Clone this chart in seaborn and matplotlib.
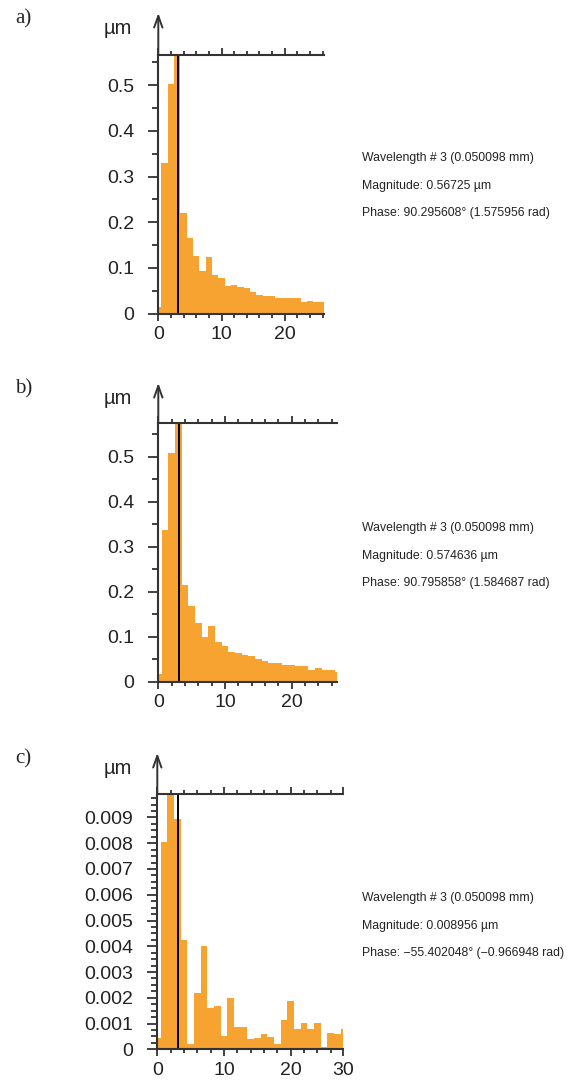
import numpy as np
import pandas as pd
import matplotlib
matplotlib.use("Agg")
import matplotlib.pyplot as plt
import seaborn as sns
from matplotlib.ticker import MultipleLocator, FormatStrFormatter

# amplitude spectra (µm), one bar per harmonic 0, 1, 2, ...
mag_a = [0.015, 0.330, 0.502, 0.56725, 0.221, 0.165, 0.126, 0.093, 0.123, 0.085,
         0.077, 0.060, 0.063, 0.058, 0.056, 0.046, 0.040, 0.038, 0.038, 0.035,
         0.035, 0.033, 0.033, 0.026, 0.028, 0.025, 0.025]
mag_b = [0.017, 0.337, 0.509, 0.574636, 0.216, 0.169, 0.131, 0.099, 0.123, 0.088,
         0.080, 0.067, 0.063, 0.059, 0.057, 0.050, 0.046, 0.041, 0.041, 0.037,
         0.037, 0.034, 0.034, 0.027, 0.031, 0.027, 0.027, 0.022]
mag_c = [0.00043, 0.00806, 0.0100, 0.008956, 0.00424, 0.0002, 0.0022, 0.0040, 0.0016, 0.0017,
         0.00052, 0.0020, 0.00088, 0.00088, 0.00039, 0.00045, 0.00058, 0.00047, 0.0002, 0.00114,
         0.00189, 0.00078, 0.00101, 0.00078, 0.00101, 0.00008, 0.00065, 0.00058, 0.00078]

spectra = [mag_a, mag_b, mag_c]
panel_names = ["a)", "b)", "c)"]
x_max = [26.2, 26.85, 27.8]
y_max = [0.56725, 0.574636, 0.0099]
picked = [3.1, 3.1, 3.15]          # cursor on wavelength #3
y_major = [0.1, 0.1, 0.001]
y_minor = [0.05, 0.05, 0.00025]
info = [
    ["Wavelength # 3 (0.050098 mm)", "Magnitude: 0.56725 µm", "Phase: 90.295608° (1.575956 rad)"],
    ["Wavelength # 3 (0.050098 mm)", "Magnitude: 0.574636 µm", "Phase: 90.795858° (1.584687 rad)"],
    ["Wavelength # 3 (0.050098 mm)", "Magnitude: 0.008956 µm", "Phase: \u221255.402048° (\u22120.966948 rad)"],
]

# layout in pixels (left, top, right, bottom) of each plot box
W, H = 571, 1084
boxes = [(158.3, 54.5, 324, 313.5), (158.3, 423.3, 337.3, 681.7), (157.3, 794.3, 342.7, 1049.3)]
arrow_tip = [13, 383, 753]
info_y = [[158, 186, 213], [528, 556, 583], [898, 926, 953]]

sns.set_theme(style="white")
plt.rcParams["font.family"] = ["Liberation Sans", "DejaVu Sans"]
axis_col = "#333333"
bar_col = "#F6A331"

fig = plt.figure(figsize=(W / 100, H / 100), dpi=100)

for i, mags in enumerate(spectra):
    l, t, r, b = boxes[i]
    ax = fig.add_axes([l / W, 1 - b / H, (r - l) / W, (b - t) / H])
    df = pd.DataFrame({"k": np.arange(len(mags)), "mag": mags})
    sns.barplot(data=df, x="k", y="mag", native_scale=True, width=1.0,
                color=bar_col, saturation=1, linewidth=0, ax=ax)
    ax.axvline(picked[i], color="black", lw=1.4)

    ax.set_xlim(0, x_max[i])
    ax.set_ylim(0, y_max[i])
    ax.set_xlabel("")
    ax.set_ylabel("")

    if i == 2:
        ax.set_xticks([0, 10, 20, x_max[i]])
        ax.set_xticklabels(["0", "10", "20", "30"])
    else:
        ax.set_xticks([0, 10, 20])
        ax.set_xticklabels(["0", "10", "20"])
    ax.xaxis.set_minor_locator(MultipleLocator(2))
    ax.yaxis.set_major_locator(MultipleLocator(y_major[i]))
    ax.yaxis.set_minor_locator(MultipleLocator(y_minor[i]))
    ax.yaxis.set_major_formatter(FormatStrFormatter("%g"))

    for side in ["left", "bottom", "top"]:
        ax.spines[side].set_visible(True)
        ax.spines[side].set_color(axis_col)
        ax.spines[side].set_linewidth(1.5)
    ax.spines["right"].set_visible(False)

    ax.tick_params(which="both", direction="out", color=axis_col, width=1.3,
                   left=True, bottom=True, top=True, right=False,
                   labeltop=False, labelsize=14, labelcolor="#222222")
    ax.tick_params(axis="x", which="major", length=5, pad=4)
    ax.tick_params(axis="x", which="minor", length=3)
    ax.tick_params(axis="y", which="major", length=7.2, pad=10)
    ax.tick_params(axis="y", which="minor", length=4.2)

    # arrow on the y axis
    h_px = b - t
    ax.annotate("", xy=(0, 1 + (t - arrow_tip[i]) / h_px), xytext=(0, 1),
                xycoords="axes fraction", textcoords="axes fraction",
                arrowprops=dict(arrowstyle="->,head_length=0.7,head_width=0.25",
                                color=axis_col, lw=1.4, shrinkA=0, shrinkB=0),
                annotation_clip=False)

    fig.text(117.5 / W, 1 - (arrow_tip[i] + 16) / H, "µm", fontsize=14.5,
             color="#222222", ha="center", va="center")
    fig.text(23.5 / W, 1 - (arrow_tip[i] + 6) / H, panel_names[i], fontsize=15,
             family=["Liberation Serif", "DejaVu Serif"], ha="center", va="center")

    for line, yy in zip(info[i], info_y[i]):
        fig.text(362 / W, 1 - yy / H, line, fontsize=8.8, color="#222222",
                 ha="left", va="center")

fig.savefig("out.png", dpi=100, facecolor="white")
